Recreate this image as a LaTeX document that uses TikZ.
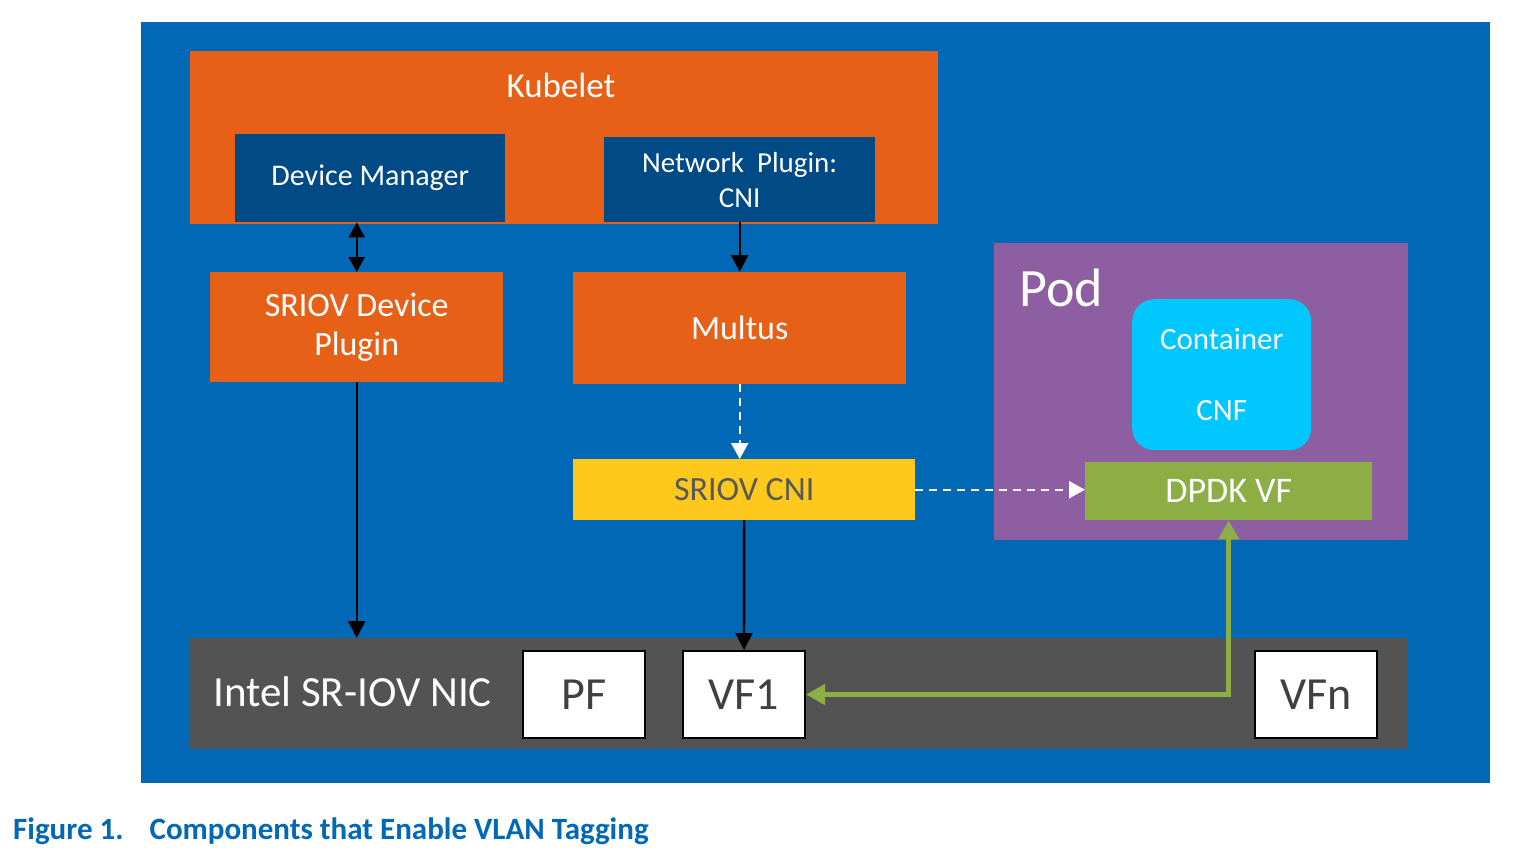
\documentclass[tikz,border=0pt]{standalone}
\usepackage{fontspec}
\setmainfont{Carlito}
\usetikzlibrary{shapes, arrows, arrows.meta}
\definecolor{intelblue}{RGB}{0,104,181}
\definecolor{kubeorange}{RGB}{231,96,24}
\definecolor{darkblue}{RGB}{0,74,134}
\definecolor{cniyellow}{RGB}{254,200,28}
\definecolor{podpurple}{RGB}{142,94,162}
\definecolor{cnfcyan}{RGB}{0,199,253}
\definecolor{vfgreen}{RGB}{140,174,68}
\definecolor{nicgray}{RGB}{83,83,83}
\newcommand{\fs}[1]{\fontsize{#1}{1.2\dimexpr#1pt\relax}\selectfont}
\tikzstyle{block}    = [rectangle, anchor=north west, inner sep=0pt, text centered, text=white]
\tikzstyle{kubebox}  = [block, fill=kubeorange, align=center]
\tikzstyle{innerbox} = [block, fill=darkblue, align=center]
\tikzstyle{port}     = [block, fill=white, draw=black, line width=2pt, text=black!75, minimum width=122pt, minimum height=87pt]
\tikzstyle{single}   = [draw, line width=2.4pt, -{Triangle[length=17pt, width=17pt]}]
\tikzstyle{double}   = [draw, line width=2.4pt, {Triangle[length=15pt, width=16pt]}-{Triangle[length=15pt, width=16pt]}]
\tikzstyle{dashline} = [draw=white, line width=2.4pt, dash pattern=on 8pt off 6pt, -{Triangle[length=16pt, width=17pt]}]
\tikzstyle{link}     = [draw=vfgreen, line width=5.5pt, {Triangle[length=19pt, width=20pt]}-{Triangle[length=19pt, width=20pt]}]

\begin{document}
\begin{tikzpicture}[x=1pt, y=-1pt]
    \useasboundingbox (0,0) rectangle (1514,865);
    \fill[intelblue] (141,22) rectangle (1490,783);
    % kubelet and its managers
    \node[kubebox, minimum width=748pt, minimum height=173pt](kubelet) at (190,51){};
    \node[text=white, font=\fs{35}](kubetext) at (561,85){Kubelet};
    \node[innerbox, minimum width=270pt, minimum height=88pt, font=\fs{30}](devmgr) at (235,134){Device Manager};
    \node[innerbox, minimum width=271pt, minimum height=85pt, font=\fs{29}](netplug) at (604,137){Network\ \ Plugin:\\ CNI};
    % plugins
    \node[kubebox, minimum width=293pt, minimum height=110pt, font=\fs{34}](devplug) at (210,272){SRIOV Device\\[-2pt] Plugin};
    \node[kubebox, minimum width=333pt, minimum height=112pt, font=\fs{34}](multus) at (573,272){Multus};
    \node[block, fill=cniyellow, text=black!65, minimum width=342pt, minimum height=61pt, font=\fs{34}](sriovcni) at (573,459){SRIOV CNI};
    % pod
    \node[block, fill=podpurple, minimum width=414pt, minimum height=297pt](pod) at (994,243){};
    \node[anchor=west, text=white, inner sep=0pt, font=\fs{54}](podtext) at (1019,288){Pod};
    \node[block, fill=cnfcyan, rounded corners=22pt, minimum width=179pt, minimum height=151pt, align=center, font=\fs{31}](cnf) at (1132,299){Container\\[34pt] CNF};
    \node[block, fill=vfgreen, minimum width=287pt, minimum height=58pt, font=\fs{36}](dpdk) at (1085,462){DPDK VF};
    % nic
    \node[block, fill=nicgray, minimum width=1218pt, minimum height=111pt](nic) at (190,638){};
    \node[anchor=west, text=white, inner sep=0pt, font=\fs{43}](nictext) at (213,692){Intel SR-IOV NIC};
    \node[port, font=\fs{46}](pf) at (522,650){PF};
    \node[port, font=\fs{46}](vfone) at (682,650){VF1};
    \node[port, font=\fs{46}](vfn) at (1254,650){VFn};
    % connectors
    \path[double](devplug.north) -- (devplug.north |- devmgr.south);
    \path[single](netplug.south) -- (multus.north);
    \path[single](devplug.south) -- (devplug.south |- nic.north);
    \path[single](sriovcni.south) -- (vfone.north);
    \path[dashline](multus.south) -- (multus.south |- sriovcni.north);
    \path[dashline](sriovcni.east) -- (sriovcni.east -| dpdk.west);
    \path[link](dpdk.south) -- (dpdk.south |- vfone.east) -- (vfone.east);
    % caption
    \node[anchor=west, inner sep=0pt, text=intelblue, font=\fs{31}\bfseries](caption) at (13,831){Figure 1.\hspace{26pt}Components that Enable VLAN Tagging};
\end{tikzpicture}
\end{document}
